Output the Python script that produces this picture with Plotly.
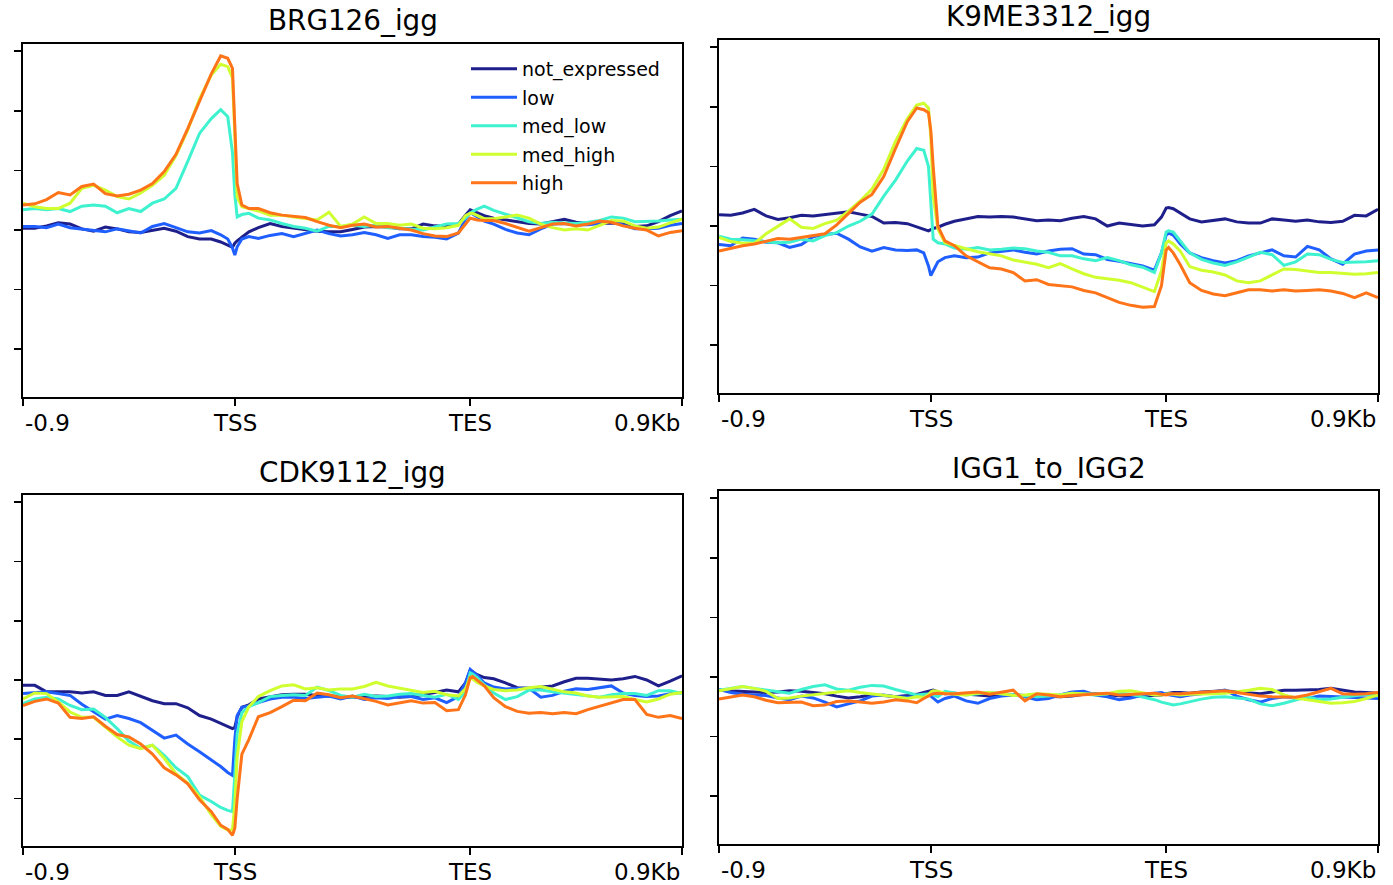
import plotly.graph_objects as go

# ---------------- data ----------------
BINS = [0, 5, 10, 15, 20, 25, 30, 35, 40, 45, 50, 55, 60, 65, 70, 75, 80,
        84, 87, 89, 90, 91, 93, 96,
        100, 105, 110, 115, 120, 125, 130, 135, 140, 145, 150, 155, 160, 165, 170, 175, 180, 185,
        188, 190, 191, 193, 196,
        200, 205, 210, 215, 220, 225, 230, 235, 240, 245, 250, 255, 260, 265, 270, 275, 280]

GROUPS = ["not_expressed", "low", "med_low", "med_high", "high"]
TITLES = ["BRG126_igg", "K9ME3312_igg", "CDK9112_igg", "IGG1_to_IGG2"]
XTICK_BINS = [0, 90, 190, 280]
XTICK_LABELS = ["-0.9", "TSS", "TES", "0.9Kb"]
YTICK_VALS = [-2, -1, 0, 1, 2, 3]

# BRG126_igg
brg_not_expressed = [0.03, 0.03, 0.07, 0.12, 0.10, 0.02, -0.02, 0.05, 0.02, -0.03, -0.04, 0.00, 0.03, -0.02, -0.11, -0.15, -0.15,
                     -0.20, -0.26, -0.29, -0.22, -0.18, -0.12, -0.03,
                     0.04, 0.11, 0.06, 0.03, 0.00, -0.02, -0.03, -0.03, 0.01, 0.05, 0.06, 0.05, 0.02, 0.02, 0.10, 0.07, 0.06, 0.10,
                     0.25, 0.34, 0.32, 0.29, 0.24,
                     0.20, 0.17, 0.14, 0.11, 0.10, 0.14, 0.18, 0.13, 0.11, 0.11, 0.12, 0.10, 0.06, 0.07, 0.14, 0.24, 0.32]
brg_low = [0.06, 0.06, 0.04, 0.10, 0.04, 0.02, -0.01, -0.03, 0.02, -0.02, -0.05, 0.06, 0.11, 0.04, -0.03, -0.05, -0.01,
           -0.08, -0.15, -0.30, -0.42, -0.28, -0.15, -0.11,
           -0.14, -0.09, -0.06, -0.11, -0.06, 0.00, -0.06, -0.10, -0.08, -0.04, -0.08, -0.14, -0.08, -0.08, -0.11, -0.12, -0.15, -0.05,
           0.18, 0.29, 0.27, 0.22, 0.15,
           0.10, 0.01, -0.05, -0.08, 0.02, 0.10, 0.11, 0.09, 0.09, 0.11, 0.15, 0.08, 0.02, 0.02, 0.03, 0.08, 0.11]
brg_med_low = [0.34, 0.36, 0.34, 0.36, 0.31, 0.40, 0.42, 0.40, 0.29, 0.36, 0.31, 0.45, 0.52, 0.70, 1.15, 1.62, 1.87,
               2.02, 1.90, 1.30, 0.60, 0.22, 0.26, 0.28,
               0.20, 0.17, 0.11, 0.06, 0.03, -0.02, 0.06, 0.06, 0.08, 0.06, 0.08, 0.04, 0.03, 0.01, 0.00, 0.05, 0.10, 0.11,
               0.20, 0.28, 0.31, 0.35, 0.40,
               0.33, 0.27, 0.20, 0.14, 0.11, 0.13, 0.12, 0.11, 0.13, 0.16, 0.22, 0.20, 0.14, 0.14, 0.15, 0.17, 0.18]
brg_med_high = [0.45, 0.39, 0.36, 0.36, 0.45, 0.70, 0.75, 0.67, 0.56, 0.52, 0.62, 0.75, 0.92, 1.25, 1.68, 2.20, 2.60,
                2.78, 2.74, 2.55, 1.60, 0.55, 0.39, 0.36,
                0.32, 0.25, 0.25, 0.22, 0.20, 0.17, 0.30, 0.06, 0.10, 0.22, 0.11, 0.11, 0.08, 0.10, 0.03, 0.02, 0.04, 0.08,
                0.24, 0.28, 0.28, 0.24, 0.19,
                0.19, 0.22, 0.25, 0.20, 0.10, 0.04, 0.00, 0.02, 0.00, 0.08, 0.16, 0.15, 0.07, 0.03, 0.05, 0.12, 0.18]
brg_high = [0.42, 0.44, 0.51, 0.63, 0.59, 0.73, 0.77, 0.61, 0.57, 0.60, 0.67, 0.78, 0.98, 1.27, 1.70, 2.15, 2.62,
            2.92, 2.88, 2.71, 1.79, 0.78, 0.42, 0.36,
            0.36, 0.29, 0.25, 0.23, 0.21, 0.14, 0.08, 0.04, 0.08, 0.10, 0.05, 0.06, 0.03, 0.00, -0.06, -0.10, -0.11, -0.05,
            0.10, 0.20, 0.19, 0.17, 0.16,
            0.16, 0.11, 0.04, -0.02, 0.04, 0.10, 0.11, 0.07, 0.10, 0.15, 0.13, 0.07, 0.03, 0.00, -0.10, -0.04, -0.01]

# K9ME3312_igg
k9_not_expressed = [0.19, 0.18, 0.22, 0.28, 0.17, 0.11, 0.14, 0.18, 0.17, 0.19, 0.22, 0.24, 0.20, 0.16, 0.05, 0.06, 0.04,
                    -0.01, -0.06, -0.08, -0.06, -0.04, -0.02, 0.03,
                    0.08, 0.12, 0.16, 0.15, 0.16, 0.15, 0.12, 0.09, 0.10, 0.09, 0.13, 0.16, 0.12, 0.00, 0.05, 0.02, 0.00, 0.02,
                    0.15, 0.30, 0.31, 0.29, 0.22,
                    0.12, 0.07, 0.09, 0.12, 0.07, 0.05, 0.05, 0.12, 0.10, 0.08, 0.10, 0.07, 0.06, 0.08, 0.18, 0.17, 0.28]
k9_low = [-0.31, -0.33, -0.20, -0.22, -0.27, -0.28, -0.36, -0.31, -0.18, -0.14, -0.12, -0.22, -0.35, -0.42, -0.36, -0.40, -0.41,
          -0.40, -0.45, -0.67, -0.83, -0.75, -0.60, -0.53,
          -0.50, -0.53, -0.52, -0.45, -0.42, -0.40, -0.44, -0.47, -0.42, -0.39, -0.38, -0.47, -0.48, -0.56, -0.59, -0.63, -0.67, -0.74,
          -0.45, -0.15, -0.12, -0.15, -0.30,
          -0.45, -0.53, -0.58, -0.62, -0.58, -0.50, -0.45, -0.40, -0.50, -0.52, -0.34, -0.40, -0.55, -0.64, -0.47, -0.42, -0.40]
k9_med_low = [-0.17, -0.22, -0.23, -0.25, -0.27, -0.28, -0.27, -0.22, -0.25, -0.16, -0.11, 0.00, 0.08, 0.20, 0.50, 0.77, 1.09,
              1.30, 1.27, 1.00, 0.40, -0.22, -0.28, -0.30,
              -0.37, -0.39, -0.36, -0.40, -0.39, -0.37, -0.38, -0.42, -0.44, -0.50, -0.50, -0.55, -0.58, -0.53, -0.58, -0.65, -0.69, -0.78,
              -0.45, -0.10, -0.08, -0.10, -0.25,
              -0.45, -0.56, -0.62, -0.66, -0.60, -0.52, -0.44, -0.48, -0.66, -0.60, -0.47, -0.48, -0.56, -0.61, -0.61, -0.60, -0.58]
k9_med_high = [-0.19, -0.26, -0.29, -0.29, -0.13, 0.00, 0.12, -0.02, -0.04, 0.04, 0.10, 0.25, 0.42, 0.62, 0.95, 1.42, 1.80,
               2.03, 2.06, 1.98, 1.50, 0.50, -0.05, -0.28,
               -0.33, -0.38, -0.43, -0.46, -0.50, -0.57, -0.60, -0.64, -0.70, -0.63, -0.72, -0.80, -0.86, -0.88, -0.91, -0.95, -1.03, -1.10,
               -0.75, -0.28, -0.25, -0.30, -0.42,
               -0.68, -0.74, -0.77, -0.82, -0.92, -0.95, -0.92, -0.82, -0.72, -0.73, -0.76, -0.78, -0.78, -0.80, -0.81, -0.80, -0.78]
k9_high = [-0.42, -0.37, -0.33, -0.30, -0.25, -0.21, -0.22, -0.19, -0.15, -0.13, 0.02, 0.21, 0.40, 0.53, 0.83, 1.30, 1.75,
           1.98, 1.95, 1.90, 1.60, 1.00, 0.00, -0.25,
           -0.33, -0.50, -0.60, -0.70, -0.72, -0.78, -0.92, -0.90, -0.98, -1.00, -1.02, -1.08, -1.12, -1.20, -1.28, -1.33, -1.36, -1.35,
           -1.00, -0.40, -0.36, -0.45, -0.65,
           -0.95, -1.08, -1.14, -1.17, -1.12, -1.07, -1.07, -1.09, -1.07, -1.09, -1.08, -1.07, -1.09, -1.13, -1.20, -1.12, -1.20]

# CDK9112_igg
cdk_not_expressed = [-0.09, -0.09, -0.20, -0.20, -0.20, -0.22, -0.20, -0.26, -0.26, -0.20, -0.27, -0.35, -0.40, -0.40, -0.47, -0.60, -0.66,
                     -0.73, -0.78, -0.82, -0.80, -0.62, -0.46, -0.42,
                     -0.32, -0.28, -0.25, -0.24, -0.24, -0.26, -0.27, -0.29, -0.29, -0.28, -0.27, -0.28, -0.29, -0.28, -0.25, -0.21, -0.17, -0.20,
                     -0.05, 0.16, 0.14, 0.09, 0.04,
                     0.02, -0.05, -0.13, -0.14, -0.12, -0.10, -0.03, 0.03, 0.03, 0.01, 0.00, 0.02, 0.06, 0.00, -0.10, -0.02, 0.07]
cdk_low = [-0.23, -0.22, -0.20, -0.23, -0.26, -0.41, -0.54, -0.66, -0.60, -0.65, -0.72, -0.85, -0.98, -0.93, -1.08, -1.21, -1.35,
           -1.46, -1.56, -1.61, -1.00, -0.60, -0.46, -0.44,
           -0.38, -0.32, -0.29, -0.29, -0.31, -0.29, -0.27, -0.32, -0.27, -0.33, -0.30, -0.31, -0.28, -0.28, -0.33, -0.30, -0.38, -0.28,
           -0.05, 0.18, 0.15, 0.08, -0.05,
           -0.12, -0.15, -0.15, -0.14, -0.29, -0.26, -0.19, -0.15, -0.16, -0.13, -0.10, -0.22, -0.26, -0.28, -0.27, -0.23, -0.21]
cdk_med_low = [-0.40, -0.32, -0.29, -0.32, -0.43, -0.50, -0.49, -0.63, -0.82, -1.03, -1.15, -1.10, -1.27, -1.48, -1.63, -1.94, -2.05,
               -2.15, -2.20, -2.22, -1.60, -0.90, -0.55, -0.45,
               -0.38, -0.28, -0.26, -0.25, -0.26, -0.12, -0.18, -0.26, -0.29, -0.24, -0.28, -0.27, -0.24, -0.23, -0.26, -0.29, -0.24, -0.33,
               -0.20, 0.12, 0.10, 0.04, -0.08,
               -0.22, -0.33, -0.28, -0.17, -0.17, -0.20, -0.22, -0.24, -0.27, -0.29, -0.25, -0.23, -0.23, -0.26, -0.18, -0.18, -0.23]
cdk_med_high = [-0.32, -0.22, -0.23, -0.37, -0.54, -0.63, -0.63, -0.79, -0.96, -1.10, -1.16, -1.10, -1.32, -1.58, -1.74, -1.97, -2.27,
                -2.47, -2.53, -2.53, -2.10, -1.30, -0.70, -0.45,
                -0.28, -0.18, -0.10, -0.08, -0.15, -0.13, -0.17, -0.15, -0.15, -0.11, -0.04, -0.10, -0.14, -0.17, -0.21, -0.19, -0.25, -0.27,
                -0.15, 0.04, 0.02, -0.04, -0.10,
                -0.16, -0.18, -0.17, -0.13, -0.11, -0.16, -0.20, -0.22, -0.27, -0.29, -0.28, -0.28, -0.33, -0.37, -0.32, -0.24, -0.21]
cdk_high = [-0.43, -0.36, -0.32, -0.39, -0.63, -0.65, -0.62, -0.78, -0.92, -0.96, -1.08, -1.25, -1.48, -1.60, -1.75, -2.02, -2.22,
            -2.45, -2.52, -2.62, -2.50, -2.00, -1.25, -1.00,
            -0.62, -0.55, -0.45, -0.34, -0.35, -0.22, -0.25, -0.30, -0.27, -0.31, -0.36, -0.42, -0.38, -0.35, -0.39, -0.38, -0.52, -0.50,
            -0.25, 0.04, 0.06, -0.01, -0.10,
            -0.30, -0.45, -0.53, -0.56, -0.55, -0.57, -0.55, -0.57, -0.50, -0.44, -0.38, -0.33, -0.33, -0.58, -0.63, -0.60, -0.65]

# IGG1_to_IGG2
igg_not_expressed = [-0.22, -0.23, -0.25, -0.26, -0.26, -0.25, -0.23, -0.24, -0.26, -0.28, -0.32, -0.35, -0.33, -0.30, -0.31, -0.33, -0.31,
                     -0.29, -0.26, -0.24, -0.23, -0.22, -0.25, -0.28,
                     -0.27, -0.28, -0.30, -0.32, -0.31, -0.30, -0.31, -0.32, -0.33, -0.33, -0.32, -0.29, -0.28, -0.30, -0.31, -0.33, -0.32, -0.31,
                     -0.30, -0.28, -0.27, -0.26, -0.26,
                     -0.27, -0.25, -0.24, -0.23, -0.25, -0.26, -0.28, -0.25, -0.22, -0.22, -0.22, -0.21, -0.19, -0.22, -0.25, -0.26, -0.27]
igg_low = [-0.21, -0.26, -0.29, -0.30, -0.31, -0.35, -0.38, -0.32, -0.35, -0.42, -0.50, -0.45, -0.40, -0.32, -0.30, -0.33, -0.34,
           -0.32, -0.31, -0.30, -0.32, -0.35, -0.42, -0.36,
           -0.32, -0.40, -0.44, -0.36, -0.32, -0.30, -0.33, -0.38, -0.36, -0.30, -0.25, -0.24, -0.30, -0.33, -0.38, -0.35, -0.30, -0.27,
           -0.26, -0.29, -0.30, -0.31, -0.33,
           -0.30, -0.28, -0.25, -0.22, -0.32, -0.38, -0.42, -0.36, -0.33, -0.35, -0.36, -0.32, -0.33, -0.34, -0.35, -0.36, -0.36]
igg_med_low = [-0.22, -0.19, -0.16, -0.19, -0.22, -0.25, -0.27, -0.21, -0.16, -0.13, -0.20, -0.22, -0.17, -0.14, -0.15, -0.21, -0.26,
               -0.30, -0.29, -0.28, -0.28, -0.30, -0.33, -0.24,
               -0.27, -0.30, -0.28, -0.26, -0.28, -0.30, -0.32, -0.33, -0.32, -0.30, -0.27, -0.29, -0.30, -0.28, -0.27, -0.29, -0.33, -0.38,
               -0.42, -0.44, -0.45, -0.47, -0.45,
               -0.41, -0.37, -0.34, -0.33, -0.35, -0.37, -0.45, -0.48, -0.44, -0.38, -0.33, -0.38, -0.37, -0.34, -0.32, -0.29, -0.32]
igg_med_high = [-0.23, -0.19, -0.16, -0.19, -0.24, -0.36, -0.35, -0.32, -0.30, -0.27, -0.25, -0.23, -0.26, -0.28, -0.30, -0.33, -0.36,
                -0.33, -0.34, -0.30, -0.25, -0.23, -0.24, -0.27,
                -0.29, -0.30, -0.27, -0.26, -0.28, -0.31, -0.30, -0.28, -0.29, -0.30, -0.27, -0.28, -0.29, -0.28, -0.24, -0.23, -0.27, -0.30,
                -0.30, -0.29, -0.28, -0.29, -0.30,
                -0.29, -0.29, -0.28, -0.27, -0.25, -0.22, -0.19, -0.21, -0.30, -0.35, -0.38, -0.41, -0.44, -0.43, -0.41, -0.36, -0.30]
igg_high = [-0.37, -0.33, -0.30, -0.33, -0.39, -0.43, -0.42, -0.42, -0.48, -0.47, -0.41, -0.40, -0.42, -0.44, -0.42, -0.38, -0.40,
            -0.43, -0.36, -0.32, -0.30, -0.28, -0.27, -0.28,
            -0.28, -0.27, -0.25, -0.29, -0.26, -0.22, -0.40, -0.28, -0.30, -0.33, -0.31, -0.30, -0.28, -0.27, -0.30, -0.29, -0.28, -0.27,
            -0.29, -0.30, -0.29, -0.28, -0.28,
            -0.27, -0.26, -0.24, -0.23, -0.26, -0.29, -0.32, -0.33, -0.33, -0.34, -0.30, -0.25, -0.19, -0.28, -0.29, -0.28, -0.26]

PANELS = [
    [brg_not_expressed, brg_low, brg_med_low, brg_med_high, brg_high],
    [k9_not_expressed, k9_low, k9_med_low, k9_med_high, k9_high],
    [cdk_not_expressed, cdk_low, cdk_med_low, cdk_med_high, cdk_high],
    [igg_not_expressed, igg_low, igg_med_low, igg_med_high, igg_high],
]

# ---------------- styling ----------------
W, H = 1393, 885
COLORS = ["#1f1f8c", "#1f5fff", "#3ff2cf", "#d0ff30", "#ff7418"]
FONT = "DejaVu Sans"

# panel boxes in page pixels: (left, right, top, bottom)
BOXES = [(23, 682, 44, 397), (719, 1378, 40, 393), (23, 682, 495, 846), (719, 1378, 491, 844)]


def px_x(p):
    return p / W


def px_y(p):
    return 1 - p / H


fig = go.Figure()
layout = dict(
    width=W, height=H,
    margin=dict(l=0, r=0, t=0, b=0),
    paper_bgcolor="white", plot_bgcolor="white",
    font=dict(family=FONT, color="black"),
    showlegend=True,
    legend=dict(
        x=px_x(466), y=px_y(50), xanchor="left", yanchor="top",
        font=dict(family=FONT, size=19, color="black"),
        bgcolor="rgba(0,0,0,0)", borderwidth=0,
        itemwidth=46, tracegroupgap=0.8,
    ),
)
annotations = []

for i, (series_list, title, box) in enumerate(zip(PANELS, TITLES, BOXES)):
    n = i + 1
    xa = "x" if n == 1 else f"x{n}"
    ya = "y" if n == 1 else f"y{n}"
    left, right, top, bottom = box
    for g, (vals, name, col) in enumerate(zip(series_list, GROUPS, COLORS)):
        fig.add_trace(go.Scatter(
            x=BINS, y=vals, mode="lines", name=name,
            line=dict(color=col, width=3),
            xaxis=xa, yaxis=ya,
            showlegend=(n == 1), legendgroup=name,
            hoverinfo="skip",
        ))
    axkey_x = "xaxis" if n == 1 else f"xaxis{n}"
    axkey_y = "yaxis" if n == 1 else f"yaxis{n}"
    layout[axkey_x] = dict(
        domain=[px_x(left), px_x(right)], range=[0, 280], anchor=ya,
        showgrid=False, zeroline=False, showline=True, linecolor="black", linewidth=1.6,
        mirror=True, ticks="outside", ticklen=7, tickwidth=1.6, tickcolor="black",
        tickvals=XTICK_BINS, showticklabels=False,
    )
    layout[axkey_y] = dict(
        domain=[px_y(bottom), px_y(top)], range=[-2.8, 3.12], anchor=xa,
        showgrid=False, zeroline=False, showline=True, linecolor="black", linewidth=1.6,
        mirror=True, ticks="outside", ticklen=7, tickwidth=1.6, tickcolor="black",
        tickvals=YTICK_VALS, showticklabels=False,
    )
    # title
    annotations.append(dict(
        text=title, xref="paper", yref="paper",
        x=px_x((left + right) / 2), y=px_y(top - 23),
        xanchor="center", yanchor="middle", showarrow=False,
        font=dict(family=FONT, size=27.8, color="black"),
    ))
    # x tick labels
    for tb, tl in zip(XTICK_BINS, XTICK_LABELS):
        anchor = "left" if tb == XTICK_BINS[0] else ("right" if tb == XTICK_BINS[-1] else "center")
        annotations.append(dict(
            text=tl, xref=xa, yref="paper", x=tb, y=px_y(bottom + 26),
            xanchor=anchor, yanchor="middle", showarrow=False,
            font=dict(family=FONT, size=23, color="black"),
        ))

layout["annotations"] = annotations
fig.update_layout(**layout)
# remove the default 8px page margin so the figure fills the window exactly
fig.write_html("out.html",
               config={"displayModeBar": False, "staticPlot": True},
               post_script="document.body.style.margin='0px';document.body.style.overflow='hidden';")
